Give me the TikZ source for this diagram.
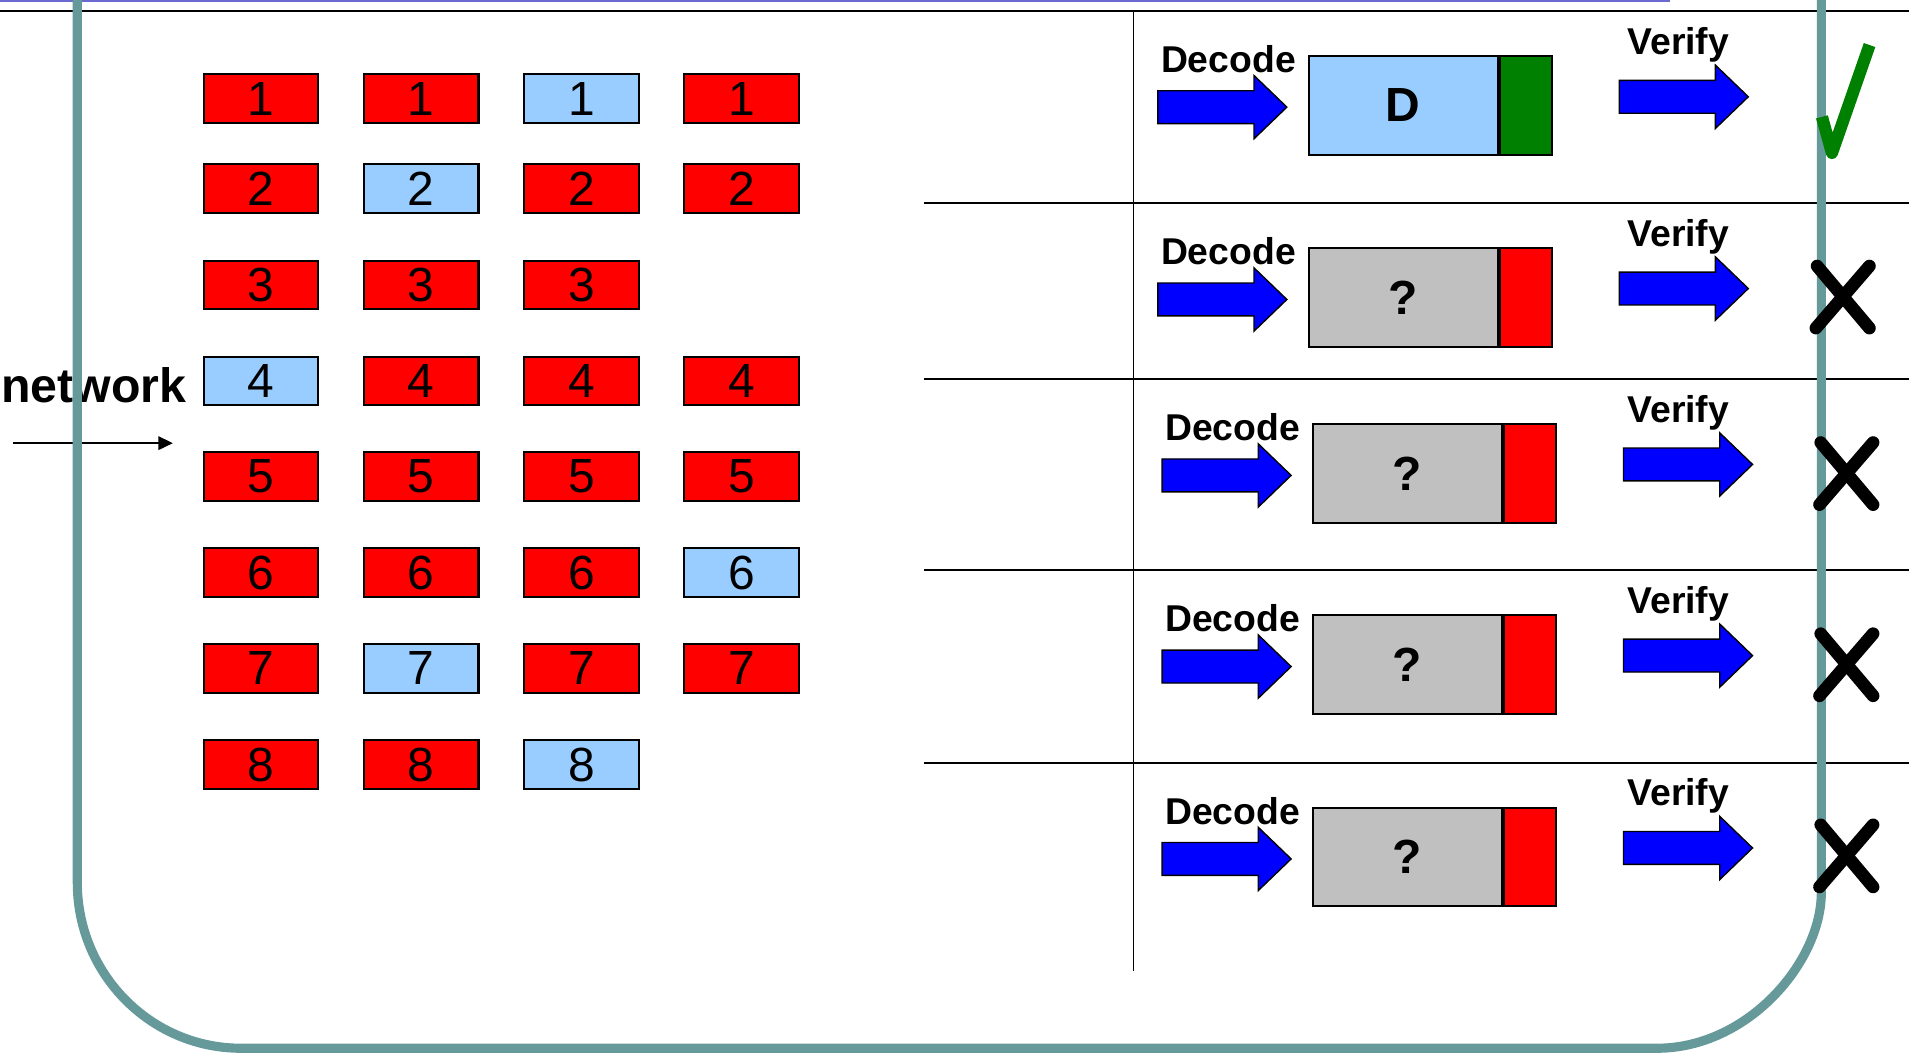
\documentclass[tikz,border=0pt]{standalone}
\usepackage{fontspec}
\setmainfont{Liberation Sans}
\usetikzlibrary{arrows.meta}
\definecolor{framec}{RGB}{102,153,153}
\definecolor{lblue}{RGB}{153,204,255}
\definecolor{graybox}{RGB}{192,192,192}
\definecolor{dgreen}{RGB}{0,128,0}
\definecolor{lav}{RGB}{106,106,210}
\definecolor{pblue}{RGB}{0,0,255}
\begin{document}
\begin{tikzpicture}[x=0.0125cm,y=-0.0125cm,
  cell/.style={draw=black, line width=0.6pt, minimum width=1.175cm, minimum height=0.5cm, inner sep=0pt, font=\fontsize{14}{14}\selectfont},
  rc/.style={cell, fill=red},
  bc/.style={cell, fill=lblue},
  mainbox/.style={draw=black, line width=0.6pt, minimum width=1.9375cm, minimum height=1.0125cm, inner sep=0pt, font=\fontsize{14}{14}\selectfont\bfseries},
  tagbox/.style={draw=black, line width=0.6pt, minimum width=0.5375cm, minimum height=1.0125cm, inner sep=0pt},
  lbl/.style={font=\fontsize{10.9}{12}\selectfont\bfseries, inner sep=0pt, anchor=base},
  sepline/.style={black, line width=0.6pt},
  xmark/.style={black, line width=3.7pt, line cap=round},
  blockarrow/.pic={\draw[line width=0.4pt, draw=black, fill=pblue] (0,-13.5) -- (79,-13.5) -- (79,-26) -- (106,0) -- (79,26) -- (79,13.5) -- (0,13.5) -- cycle;}
]
\path[use as bounding box] (0,0) rectangle (1568,865);
\clip (0,0) rectangle (1568,865);
\fill[white] (0,0) rectangle (1568,865);

% top lines
\draw[lav, line width=0.6pt] (0,0.8) -- (1372,0.8);
\draw[sepline] (0,9) -- (1568,9);
\draw[black, line width=0.45pt] (931,9) -- (931,797.5);
\foreach \yy in {166.5,311,468,626.5} {\draw[sepline] (759,\yy) -- (1568,\yy);}

% grid of packets
\node[rc] (c11) at (214.5,81) {1};
\node[rc] (c12) at (346,81) {1};
\node[bc] (c13) at (477.5,81) {1};
\node[rc] (c14) at (609,81) {1};
\node[rc] (c21) at (214.5,155) {2};
\node[bc] (c22) at (346,155) {2};
\node[rc] (c23) at (477.5,155) {2};
\node[rc] (c24) at (609,155) {2};
\node[rc] (c31) at (214.5,234) {3};
\node[rc] (c32) at (346,234) {3};
\node[rc] (c33) at (477.5,234) {3};
\node[bc] (c41) at (214.5,313) {4};
\node[rc] (c42) at (346,313) {4};
\node[rc] (c43) at (477.5,313) {4};
\node[rc] (c44) at (609,313) {4};
\node[rc] (c51) at (214.5,391.5) {5};
\node[rc] (c52) at (346,391.5) {5};
\node[rc] (c53) at (477.5,391.5) {5};
\node[rc] (c54) at (609,391.5) {5};
\node[rc] (c61) at (214.5,470.5) {6};
\node[rc] (c62) at (346,470.5) {6};
\node[rc] (c63) at (477.5,470.5) {6};
\node[bc] (c64) at (609,470.5) {6};
\node[rc] (c71) at (214.5,549) {7};
\node[bc] (c72) at (346,549) {7};
\node[rc] (c73) at (477.5,549) {7};
\node[rc] (c74) at (609,549) {7};
\node[rc] (c81) at (214.5,628) {8};
\node[rc] (c82) at (346,628) {8};
\node[bc] (c83) at (477.5,628) {8};

% network label and arrow
\node[font=\fontsize{14.1}{14}\selectfont\bfseries, inner sep=0pt, anchor=base] (net) at (77,331) {network};
\coordinate (nA) at (10.4,364);
\coordinate (nB) at (142,364);
\draw[line width=0.5pt, -{Triangle[length=0.15cm,width=0.14cm]}] (nA) -- (nB);

% first row: decoded
\node[lbl] (dec1) at (1009,59.5) {Decode};
\pic (da1) at (951,88) {blockarrow};
\node[mainbox, fill=lblue] (box1) at (1152.5,86.5) {D};
\node[tagbox, fill=dgreen, anchor=west] (tag1) at (box1.east) {};
\node[lbl] (ver1) at (1378.5,45) {Verify};
\pic (va1) at (1330,79.5) {blockarrow};

% other rows
\foreach \i/\Y/\s in {2/244.5/0, 3/389/3.5, 4/546/3.5, 5/704/3.5} {
  \node[lbl] (dec\i) at ({1009+\s},{\Y-27}) {Decode};
  \pic (da\i) at ({951+\s},{\Y+1.5}) {blockarrow};
  \node[mainbox, fill=graybox] (box\i) at ({1152.5+\s},\Y) {?};
  \node[tagbox, fill=red, anchor=west] (tag\i) at (box\i.east) {};
  \node[lbl] (ver\i) at (1378.5,{\Y-42}) {Verify};
  \pic (va\i) at ({1330+\s},{\Y-7.5}) {blockarrow};
}

% frame
\draw[framec, line width=2.67pt] (63.5,-10) -- (63.5,725) .. controls (63.5,800) and (123.7,861) .. (198,861) -- (1361,861) .. controls (1435.6,861) and (1496,790.3) .. (1496,733) -- (1496,-10);

% marks
\draw[dgreen, line width=3.56pt, line join=round] (1496.5,96) -- (1504.7,125.7) -- (1535.6,37);
\foreach \i/\cx/\Y in {2/1514/244, 3/1517/389, 4/1517/546, 5/1517/703} {
  \coordinate (xa\i) at ({\cx-21.5},{\Y-25.5});
  \coordinate (xb\i) at ({\cx+21.5},{\Y+25.5});
  \coordinate (xc\i) at ({\cx+21.5},{\Y-25.5});
  \coordinate (xd\i) at ({\cx-22.5},{\Y+25.5});
  \draw[xmark] (xa\i) -- (xb\i);
  \draw[xmark] (xc\i) -- (xd\i);
}
\end{tikzpicture}
\end{document}
